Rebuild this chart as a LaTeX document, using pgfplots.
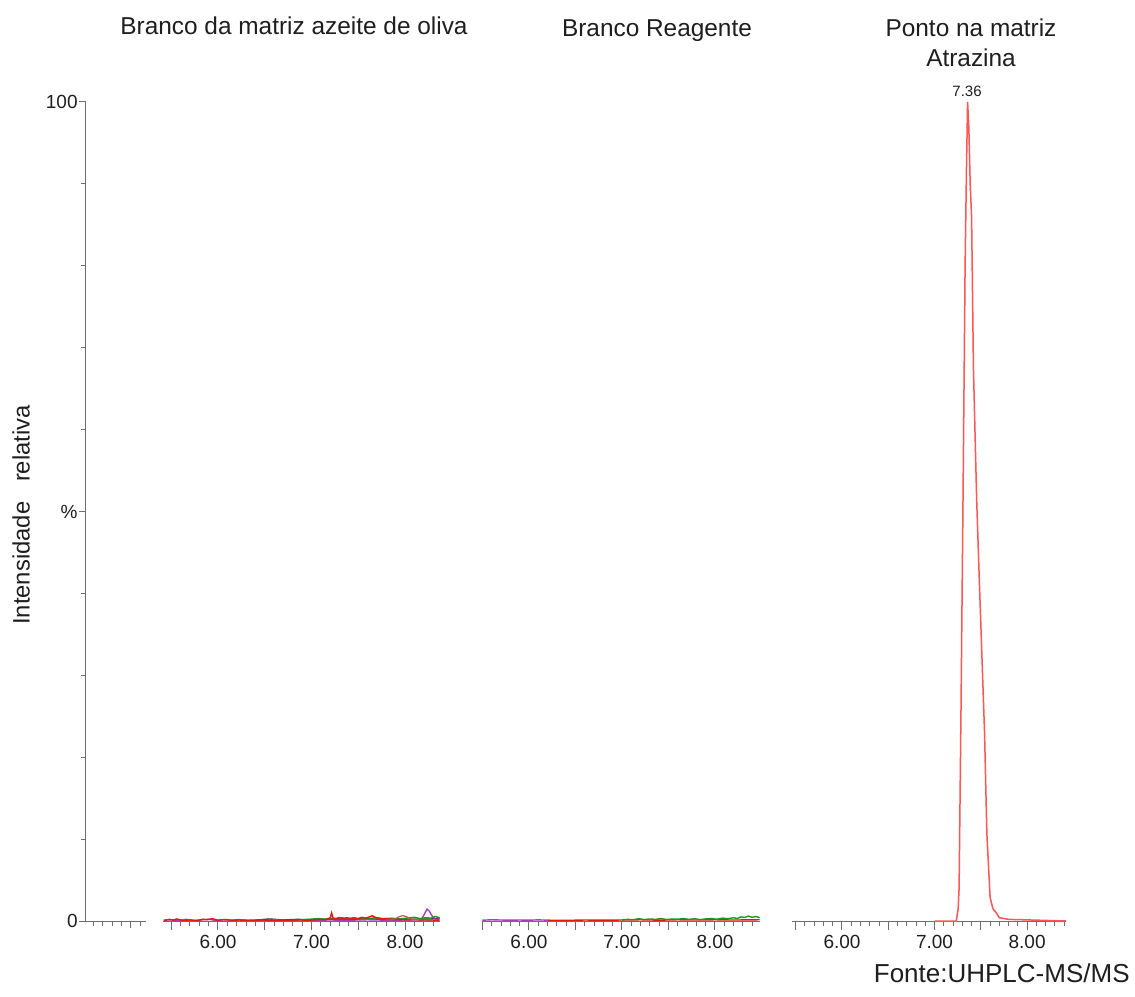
\documentclass[border=0pt]{standalone}
\usepackage{pgfplots}
\pgfplotsset{compat=1.18}
\usepackage{fontspec}
\setmainfont{Liberation Sans}
\definecolor{axgray}{RGB}{110,110,110}
\definecolor{labgray}{RGB}{30,30,30}
\definecolor{pkred}{RGB}{255,85,85}
\definecolor{cred}{RGB}{230,25,15}
\definecolor{cgreen}{RGB}{30,150,30}
\definecolor{cpurple}{RGB}{170,60,190}
\definecolor{cbrown}{RGB}{180,90,90}
\definecolor{cblack}{RGB}{50,50,50}
\begin{document}
\begin{tikzpicture}
\path[use as bounding box] (0,0) rectangle (567.5pt,498pt);
\pgfplotsset{
  base/.style={scale only axis, anchor=south west, height=409.5pt, ymin=0, ymax=100,
    axis line style={draw=axgray, line width=0.5pt, -},
    tick style={draw=axgray, line width=0.5pt},
    major tick length=4.5pt, minor tick length=2.5pt,
    ticklabel style={font=\fontsize{9.5}{11}\selectfont, text=labgray},
  },
  panel/.style={base, axis x line*=bottom, axis y line=none, ytick=\empty,
    tick align=outside,
    xtick={6,7,8}, xticklabels={6.00,7.00,8.00},
    minor xtick={5.5,5.6,...,8.5},
    extra x ticks={5.5,6.5,7.5,8.5}, extra x tick labels={},
    xticklabel style={yshift=1pt},
  },
}
% left axis
\begin{axis}[base, at={(43pt,37.5pt)}, width=30pt, xmin=0, xmax=0.64,
  axis lines*=left, tick align=outside, major tick length=3.5pt,
  xtick={0.48}, xticklabels={}, minor xtick={0.08,0.18,0.28,0.38,0.58},
  ytick={0,50,100}, yticklabels={0,\%,100},
  minor ytick={10,20,30,40,60,70,80,90},
  yticklabel style={inner xsep=0.5pt},
]
\end{axis}
% panel 1
\begin{axis}[panel, at={(81.5pt,37.5pt)}, width=138.5pt, xmin=5.412, xmax=8.374]
\addplot[cblack, line width=0.7pt] coordinates {(6.40,0.10)(6.55,0.25)(6.70,0.12)(6.85,0.20)(7.00,0.15)(7.20,0.22)(7.40,0.18)(7.60,0.25)(7.80,0.20)(8.00,0.18)(8.20,0.22)(8.37,0.30)};
\addplot[cpurple, line width=0.7pt] coordinates {(5.42,0.10)(5.50,0.15)(5.58,0.05)(5.66,0.20)(5.74,0.08)(5.82,0.12)(5.90,0.22)(5.98,0.06)(6.06,0.15)(6.14,0.10)(6.22,0.18)(6.30,0.08)(6.38,0.12)(6.50,0.05)(6.60,0.15)(6.70,0.10)(6.80,0.08)(6.90,0.14)(7.00,0.10)(7.20,0.12)(7.40,0.10)(7.60,0.15)(7.80,0.10)(8.00,0.12)(8.12,0.15)(8.18,0.30)(8.21,0.90)(8.235,1.45)(8.26,1.20)(8.29,0.60)(8.32,0.25)(8.35,0.20)(8.37,0.35)};
\addplot[cgreen, line width=0.7pt] coordinates {(6.90,0.10)(6.96,0.20)(7.02,0.25)(7.08,0.30)(7.14,0.22)(7.20,0.35)(7.26,0.28)(7.32,0.40)(7.38,0.30)(7.44,0.38)(7.50,0.25)(7.56,0.35)(7.62,0.30)(7.68,0.40)(7.74,0.32)(7.80,0.28)(7.86,0.35)(7.92,0.25)(7.98,0.30)(8.04,0.38)(8.10,0.45)(8.16,0.30)(8.22,0.40)(8.28,0.35)(8.32,0.55)(8.37,0.40)};
\addplot[cred, line width=0.7pt] coordinates {(5.42,0.05)(5.48,0.20)(5.52,0.10)(5.56,0.25)(5.62,0.08)(5.70,0.12)(5.78,0.05)(5.84,0.22)(5.88,0.15)(5.94,0.28)(6.00,0.10)(6.08,0.18)(6.16,0.06)(6.22,0.12)(6.30,0.10)(6.38,0.08)(6.46,0.14)(6.54,0.10)(6.62,0.05)(6.70,0.12)(6.78,0.08)(6.86,0.15)(6.94,0.10)(7.02,0.12)(7.08,0.20)(7.14,0.15)(7.18,0.25)(7.20,0.40)(7.215,1.00)(7.23,0.35)(7.26,0.30)(7.30,0.42)(7.34,0.28)(7.38,0.40)(7.42,0.25)(7.46,0.38)(7.50,0.30)(7.54,0.45)(7.58,0.35)(7.62,0.50)(7.65,0.65)(7.68,0.45)(7.72,0.35)(7.76,0.25)(7.80,0.30)(7.86,0.18)(7.92,0.22)(7.98,0.15)(8.04,0.12)(8.10,0.20)(8.16,0.10)(8.22,0.12)(8.30,0.08)(8.37,0.10)};
\addplot[cbrown, line width=0.6pt] coordinates {(7.80,0.10)(7.86,0.15)(7.90,0.30)(7.94,0.55)(7.98,0.65)(8.02,0.50)(8.06,0.25)(8.12,0.15)(8.20,0.12)(8.30,0.10)};
\end{axis}
% panel 2
\begin{axis}[panel, at={(241pt,37.5pt)}, width=139pt, xmin=5.495, xmax=8.484]
\addplot[cpurple, line width=0.7pt] coordinates {(5.50,0.10)(5.60,0.15)(5.70,0.12)(5.80,0.10)(5.90,0.12)(6.00,0.10)(6.10,0.14)(6.20,0.10)};
\addplot[cred, line width=0.7pt] coordinates {(6.20,0.10)(6.40,0.08)(6.60,0.12)(6.80,0.10)(7.00,0.12)(7.20,0.15)(7.40,0.10)(7.60,0.15)(7.80,0.12)(8.00,0.15)(8.20,0.12)(8.48,0.15)};
\addplot[cgreen, line width=0.7pt] coordinates {(7.00,0.12)(7.06,0.20)(7.12,0.15)(7.18,0.28)(7.24,0.18)(7.30,0.25)(7.36,0.20)(7.42,0.30)(7.48,0.18)(7.54,0.25)(7.60,0.22)(7.66,0.30)(7.72,0.20)(7.78,0.28)(7.84,0.18)(7.90,0.25)(7.96,0.30)(8.02,0.22)(8.08,0.35)(8.14,0.28)(8.20,0.40)(8.24,0.30)(8.28,0.50)(8.32,0.45)(8.36,0.60)(8.40,0.45)(8.44,0.55)(8.48,0.40)};
\end{axis}
% panel 3
\begin{axis}[panel, at={(396pt,37.5pt)}, width=137pt, xmin=5.46, xmax=8.42]
\addplot[pkred, line width=0.75pt] coordinates {(7.00,0)(7.235,0)(7.255,1.5)(7.265,4)(7.285,25)(7.307,51)(7.33,80)(7.345,92)(7.357,100)(7.37,97)(7.385,90)(7.40,86)(7.42,67.5)(7.455,51.4)(7.486,40.8)(7.54,23)(7.565,10.7)(7.60,2.9)(7.63,1.5)(7.667,1)(7.70,0.4)(7.80,0.2)(8.42,0)};
\end{axis}
% texts
\node[anchor=base, font=\fontsize{12.2}{14}\selectfont, text=labgray] at (147pt,480.5pt) {Branco da matriz azeite de oliva};
\node[anchor=base, font=\fontsize{12.2}{14}\selectfont, text=labgray] at (328.5pt,479.5pt) {Branco Reagente};
\node[anchor=base, font=\fontsize{12.2}{14}\selectfont, text=labgray] at (485.5pt,479.5pt) {Ponto na matriz};
\node[anchor=base, font=\fontsize{12.2}{14}\selectfont, text=labgray] at (485.5pt,464.5pt) {Atrazina};
\node[anchor=base, font=\fontsize{7.5}{8}\selectfont, text=labgray] at (483.5pt,449.5pt) {7.36};
\node[rotate=90, inner sep=0pt, font=\fontsize{11.9}{13}\selectfont, text=labgray] at (10.5pt,240.5pt) {Intensidade\ \ \ relativa};
\node[anchor=base east, inner sep=0pt, font=\fontsize{13}{15}\selectfont, text=labgray] at (565pt,7pt) {Fonte:UHPLC-MS/MS};
\end{tikzpicture}
\end{document}
